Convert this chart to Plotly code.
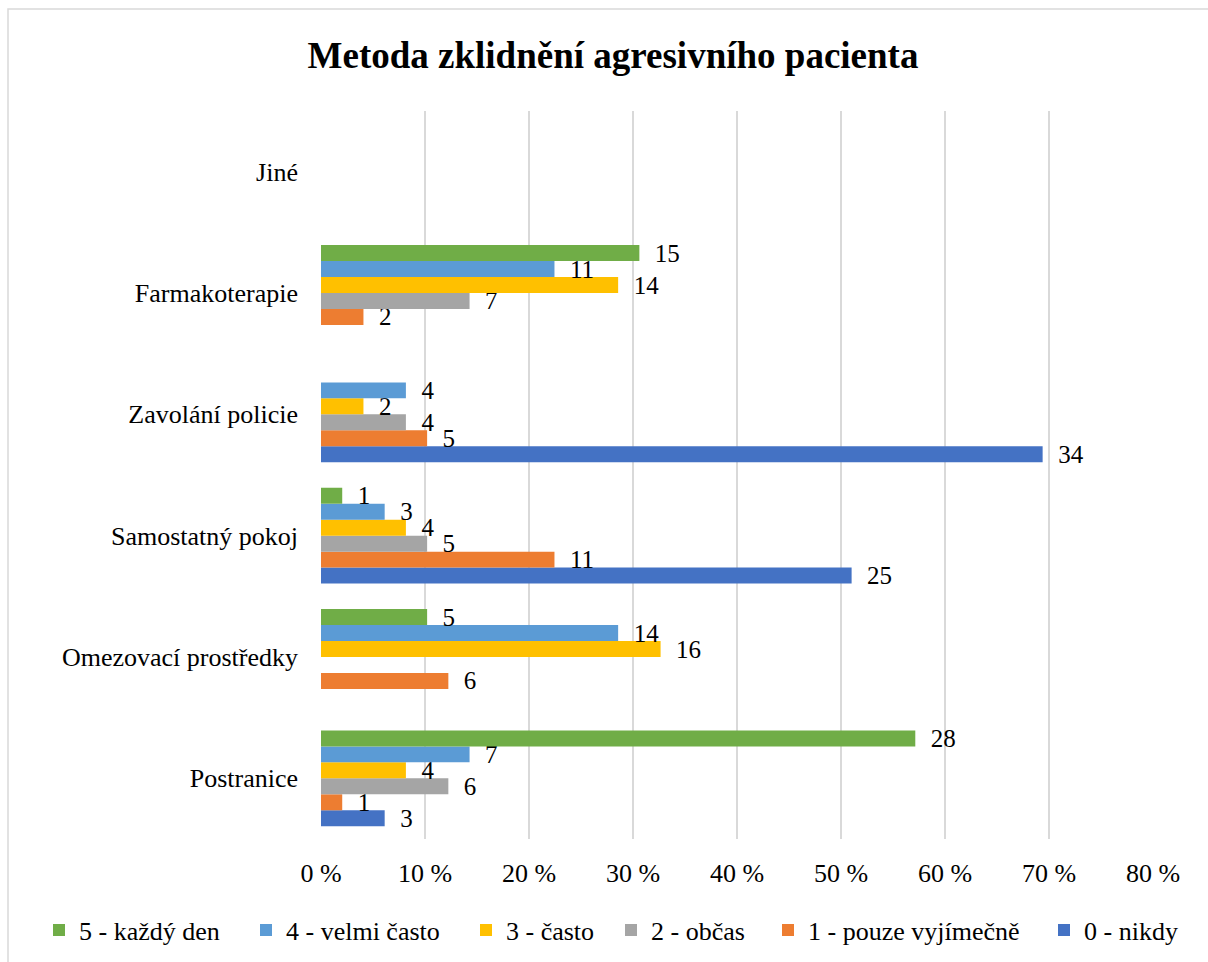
import plotly.graph_objects as go

categories = ["Postranice", "Omezovací prostředky", "Samostatný pokoj",
              "Zavolání policie", "Farmakoterapie", "Jiné"]
total_n = 49

series_names = ["0 - nikdy", "1 - pouze vyjímečně", "2 - občas",
                "3 - často", "4 - velmi často", "5 - každý den"]
colors = ["#4472C4", "#ED7D31", "#A5A5A5", "#FFC000", "#5B9BD5", "#70AD47"]

nikdy = [3, None, 25, 34, None, None]
vyjimecne = [1, 6, 11, 5, 2, None]
obcas = [6, None, 5, 4, 7, None]
casto = [4, 16, 4, 2, 14, None]
velmi_casto = [7, 14, 3, 4, 11, None]
kazdy_den = [28, 5, 1, None, 15, None]

series_values = [nikdy, vyjimecne, obcas, casto, velmi_casto, kazdy_den]

tick_vals = [0, 10, 20, 30, 40, 50, 60, 70, 80]
tick_text = [f"{v} %" for v in tick_vals]

font_family = "Liberation Serif, Times New Roman, serif"

# legend entry symbol positions (pixels) for series 0..5, as laid out in the original
legend_px = [1060, 784, 627, 482, 262, 55]
legend_ids = ["legend", "legend2", "legend3", "legend4", "legend5", "legend6"]

L, R, T, B = 321, 55, 111, 123
PW, PH = 1208 - L - R, 962 - T - B

fig = go.Figure()
for name, vals, col, lid in zip(series_names, series_values, colors, legend_ids):
    pct = [None if v is None else v / total_n * 100 for v in vals]
    txt = ["" if v is None else "\u00a0\u00a0" + str(v) for v in vals]
    fig.add_trace(go.Bar(
        y=categories, x=pct, name=name, orientation="h",
        marker=dict(color=col, line=dict(width=0)),
        text=txt, textposition="outside", cliponaxis=False,
        constraintext="none",
        textfont=dict(family=font_family, size=25, color="#000000"),
        hoverinfo="x+y+name", legend=lid,
    ))

legend_layout = {}
for lid, px in zip(legend_ids, legend_px):
    legend_layout[lid] = dict(
        orientation="h", x=(px - 16 - L) / PW, xanchor="left",
        y=-(930 - (962 - B)) / PH, yanchor="middle",
        font=dict(size=26, family=font_family, color="#000000"),
        itemwidth=30, bgcolor="rgba(0,0,0,0)", borderwidth=0,
    )

fig.update_layout(
    width=1208, height=962,
    margin=dict(l=L, r=R, t=T, b=B, autoexpand=False),
    paper_bgcolor="white", plot_bgcolor="white",
    barmode="group", bargap=0.21, bargroupgap=0,
    font=dict(family=font_family, size=26, color="#000000"),
    title=dict(text="<b>Metoda zklidnění agresivního pacienta</b>",
               font=dict(family=font_family, size=37, color="#000000"),
               x=613 / 1208, xanchor="center", y=1 - 55 / 962, yanchor="middle"),
    xaxis=dict(range=[0, 80], tickvals=tick_vals, ticktext=tick_text,
               showgrid=True, gridcolor="#D9D9D9", gridwidth=1.5,
               zeroline=False, showline=False, ticks="",
               ticklabelstandoff=16,
               tickfont=dict(size=26, family=font_family)),
    yaxis=dict(type="category", categoryorder="array", categoryarray=categories,
               showgrid=False, zeroline=False, showline=False, ticks="",
               ticklabelstandoff=22,
               tickfont=dict(size=26, family=font_family)),
    showlegend=True,
    **legend_layout,
)

# outer chart border (Excel-like chart area frame)
fig.add_shape(type="rect", xref="paper", yref="paper",
              x0=(8 - L) / PW, x1=(1215 - L) / PW,
              y0=-(1100 - (962 - B)) / PH, y1=1 + (T - 9) / PH,
              line=dict(color="#D9D9D9", width=1.5), fillcolor="rgba(0,0,0,0)",
              layer="below")

fig.write_html("out.html")
